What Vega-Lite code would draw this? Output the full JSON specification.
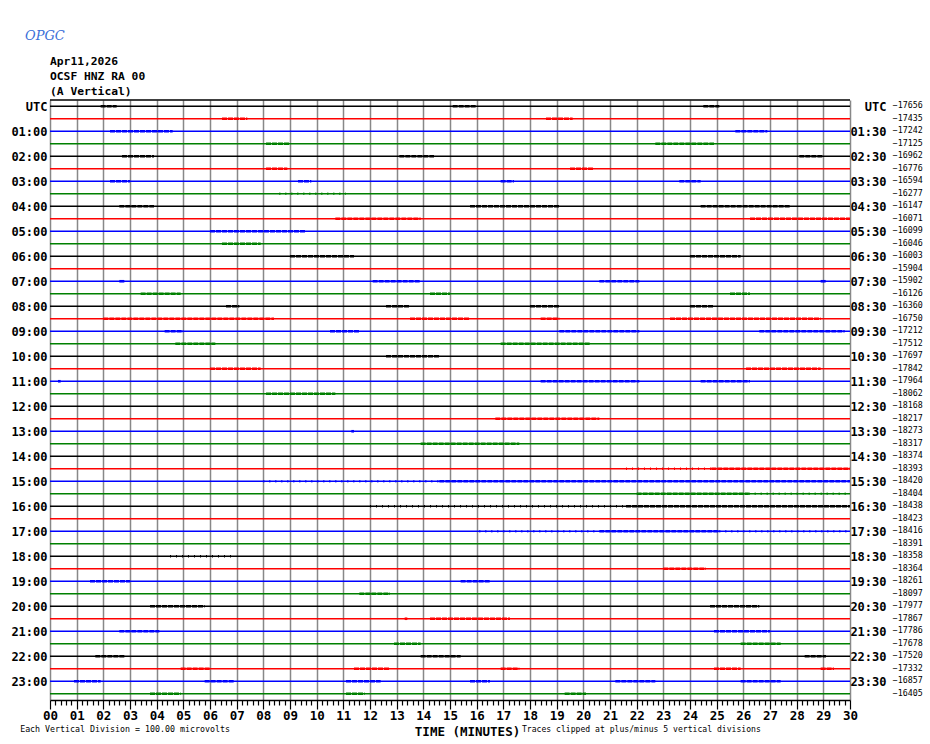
{
  "$schema": "https://vega.github.io/schema/vega-lite/v6.json",
  "width": 800,
  "height": 600,
  "autosize": {"type": "none"},
  "padding": {"left": 50, "top": 100, "right": 80, "bottom": 44},
  "background": "white",
  "config": {"view": {"stroke": null}, "font": "DejaVu Sans Mono"},
  "datasets": {
    "traces": [
      {"trace": 0, "level": -17656}, {"trace": 1, "level": -17435}, {"trace": 2, "level": -17242}, {"trace": 3, "level": -17125},
      {"trace": 4, "level": -16962}, {"trace": 5, "level": -16776}, {"trace": 6, "level": -16594}, {"trace": 7, "level": -16277},
      {"trace": 8, "level": -16147}, {"trace": 9, "level": -16071}, {"trace": 10, "level": -16099}, {"trace": 11, "level": -16046},
      {"trace": 12, "level": -16003}, {"trace": 13, "level": -15904}, {"trace": 14, "level": -15902}, {"trace": 15, "level": -16126},
      {"trace": 16, "level": -16360}, {"trace": 17, "level": -16750}, {"trace": 18, "level": -17212}, {"trace": 19, "level": -17512},
      {"trace": 20, "level": -17697}, {"trace": 21, "level": -17842}, {"trace": 22, "level": -17964}, {"trace": 23, "level": -18062},
      {"trace": 24, "level": -18168}, {"trace": 25, "level": -18217}, {"trace": 26, "level": -18273}, {"trace": 27, "level": -18317},
      {"trace": 28, "level": -18374}, {"trace": 29, "level": -18393}, {"trace": 30, "level": -18420}, {"trace": 31, "level": -18404},
      {"trace": 32, "level": -18438}, {"trace": 33, "level": -18423}, {"trace": 34, "level": -18416}, {"trace": 35, "level": -18391},
      {"trace": 36, "level": -18358}, {"trace": 37, "level": -18364}, {"trace": 38, "level": -18261}, {"trace": 39, "level": -18097},
      {"trace": 40, "level": -17977}, {"trace": 41, "level": -17867}, {"trace": 42, "level": -17786}, {"trace": 43, "level": -17678},
      {"trace": 44, "level": -17520}, {"trace": 45, "level": -17332}, {"trace": 46, "level": -16857}, {"trace": 47, "level": -16405}
    ],
    "bursts": [
      {"trace": 0, "start": 1.9, "end": 2.5, "kind": "d"}, {"trace": 0, "start": 15.1, "end": 16, "kind": "d"}, {"trace": 0, "start": 24.5, "end": 25.1, "kind": "d"},
      {"trace": 1, "start": 6.45, "end": 7.4, "kind": "d"}, {"trace": 1, "start": 18.6, "end": 19.6, "kind": "d"},
      {"trace": 2, "start": 2.25, "end": 4.6, "kind": "d"}, {"trace": 2, "start": 25.7, "end": 26.9, "kind": "d"},
      {"trace": 3, "start": 8.1, "end": 9, "kind": "d"}, {"trace": 3, "start": 22.7, "end": 24.9, "kind": "d"},
      {"trace": 4, "start": 2.7, "end": 3.9, "kind": "d"}, {"trace": 4, "start": 13.1, "end": 14.4, "kind": "d"}, {"trace": 4, "start": 28.1, "end": 29, "kind": "d"},
      {"trace": 5, "start": 8.1, "end": 8.9, "kind": "d"}, {"trace": 5, "start": 19.5, "end": 20.4, "kind": "d"},
      {"trace": 6, "start": 2.25, "end": 3, "kind": "d"}, {"trace": 6, "start": 9.3, "end": 9.8, "kind": "d"}, {"trace": 6, "start": 16.9, "end": 17.4, "kind": "d"}, {"trace": 6, "start": 23.6, "end": 24.4, "kind": "d"},
      {"trace": 7, "start": 8.6, "end": 11.1, "kind": "s"},
      {"trace": 8, "start": 2.6, "end": 3.9, "kind": "d"}, {"trace": 8, "start": 15.75, "end": 19.1, "kind": "d"}, {"trace": 8, "start": 24.4, "end": 27.75, "kind": "d"},
      {"trace": 9, "start": 10.7, "end": 13.9, "kind": "d"}, {"trace": 9, "start": 26.25, "end": 30, "kind": "d"},
      {"trace": 10, "start": 6, "end": 9.6, "kind": "d"},
      {"trace": 11, "start": 6.45, "end": 7.9, "kind": "d"},
      {"trace": 12, "start": 9, "end": 11.4, "kind": "d"}, {"trace": 12, "start": 24, "end": 25.9, "kind": "d"},
      {"trace": 14, "start": 2.6, "end": 2.8, "kind": "d"}, {"trace": 14, "start": 12.1, "end": 13.9, "kind": "d"}, {"trace": 14, "start": 20.6, "end": 22.1, "kind": "d"}, {"trace": 14, "start": 28.9, "end": 29.1, "kind": "d"},
      {"trace": 15, "start": 3.4, "end": 4.9, "kind": "d"}, {"trace": 15, "start": 14.25, "end": 15, "kind": "d"}, {"trace": 15, "start": 25.5, "end": 26.25, "kind": "d"},
      {"trace": 16, "start": 6.6, "end": 7.1, "kind": "d"}, {"trace": 16, "start": 12.6, "end": 13.5, "kind": "d"}, {"trace": 16, "start": 18, "end": 19.1, "kind": "d"}, {"trace": 16, "start": 24, "end": 24.9, "kind": "d"},
      {"trace": 17, "start": 2, "end": 8.4, "kind": "d"}, {"trace": 17, "start": 13.5, "end": 15.75, "kind": "d"}, {"trace": 17, "start": 18.4, "end": 19.1, "kind": "d"}, {"trace": 17, "start": 23.25, "end": 28.9, "kind": "d"},
      {"trace": 18, "start": 4.3, "end": 5, "kind": "d"}, {"trace": 18, "start": 10.5, "end": 11.6, "kind": "d"}, {"trace": 18, "start": 19.1, "end": 22.1, "kind": "d"}, {"trace": 18, "start": 26.6, "end": 29.8, "kind": "d"},
      {"trace": 19, "start": 4.7, "end": 6.2, "kind": "d"}, {"trace": 19, "start": 16.9, "end": 20.25, "kind": "d"},
      {"trace": 20, "start": 12.6, "end": 14.6, "kind": "d"},
      {"trace": 21, "start": 6, "end": 7.9, "kind": "d"}, {"trace": 21, "start": 26.1, "end": 28.9, "kind": "d"},
      {"trace": 22, "start": 0.3, "end": 0.4, "kind": "d"}, {"trace": 22, "start": 18.4, "end": 22.1, "kind": "d"}, {"trace": 22, "start": 24.4, "end": 26.25, "kind": "d"},
      {"trace": 23, "start": 8.1, "end": 10.7, "kind": "d"},
      {"trace": 25, "start": 16.7, "end": 20.6, "kind": "d"},
      {"trace": 26, "start": 11.3, "end": 11.4, "kind": "d"},
      {"trace": 27, "start": 13.9, "end": 17.6, "kind": "d"},
      {"trace": 29, "start": 21.6, "end": 24.8, "kind": "s"}, {"trace": 29, "start": 24.8, "end": 30, "kind": "d"},
      {"trace": 30, "start": 8, "end": 14.6, "kind": "s"}, {"trace": 30, "start": 14.6, "end": 30, "kind": "d"},
      {"trace": 31, "start": 22, "end": 26.2, "kind": "d"}, {"trace": 31, "start": 26.2, "end": 30, "kind": "s"},
      {"trace": 32, "start": 12, "end": 21.6, "kind": "s"}, {"trace": 32, "start": 21.6, "end": 30, "kind": "d"},
      {"trace": 34, "start": 16.1, "end": 20.6, "kind": "s"}, {"trace": 34, "start": 20.6, "end": 25.1, "kind": "d"}, {"trace": 34, "start": 25.1, "end": 30, "kind": "s"},
      {"trace": 36, "start": 4.5, "end": 6.9, "kind": "s"},
      {"trace": 37, "start": 23, "end": 24.6, "kind": "d"},
      {"trace": 38, "start": 1.5, "end": 3, "kind": "d"}, {"trace": 38, "start": 15.4, "end": 16.5, "kind": "d"},
      {"trace": 39, "start": 11.6, "end": 12.75, "kind": "d"},
      {"trace": 40, "start": 3.75, "end": 5.8, "kind": "d"}, {"trace": 40, "start": 24.75, "end": 26.6, "kind": "d"},
      {"trace": 41, "start": 13.3, "end": 13.4, "kind": "d"}, {"trace": 41, "start": 14.25, "end": 17.25, "kind": "d"},
      {"trace": 42, "start": 2.6, "end": 4.1, "kind": "d"}, {"trace": 42, "start": 24.9, "end": 27, "kind": "d"},
      {"trace": 43, "start": 12.9, "end": 13.9, "kind": "d"}, {"trace": 43, "start": 25.9, "end": 27.4, "kind": "d"},
      {"trace": 44, "start": 1.7, "end": 2.8, "kind": "d"}, {"trace": 44, "start": 13.9, "end": 15.4, "kind": "d"}, {"trace": 44, "start": 28.3, "end": 29.1, "kind": "d"},
      {"trace": 45, "start": 4.9, "end": 6, "kind": "d"}, {"trace": 45, "start": 11.4, "end": 12.75, "kind": "d"}, {"trace": 45, "start": 16.9, "end": 17.6, "kind": "d"}, {"trace": 45, "start": 24.9, "end": 25.9, "kind": "d"}, {"trace": 45, "start": 28.9, "end": 29.4, "kind": "d"},
      {"trace": 46, "start": 0.9, "end": 1.9, "kind": "d"}, {"trace": 46, "start": 5.8, "end": 6.9, "kind": "d"}, {"trace": 46, "start": 11.1, "end": 12.4, "kind": "d"}, {"trace": 46, "start": 15.75, "end": 16.5, "kind": "d"}, {"trace": 46, "start": 21.2, "end": 22.7, "kind": "d"}, {"trace": 46, "start": 25.9, "end": 27.4, "kind": "d"},
      {"trace": 47, "start": 3.75, "end": 4.9, "kind": "d"}, {"trace": 47, "start": 11.1, "end": 11.8, "kind": "d"}, {"trace": 47, "start": 19.3, "end": 20.1, "kind": "d"}
    ]
  },
  "resolve": {"axis": {"y": "independent", "x": "independent"}},
  "layer": [
    {
      "data": {"name": "bursts"},
      "transform": [{"filter": "datum.kind === 'd'"}],
      "mark": {"type": "rule", "strokeWidth": 2.6, "strokeDash": [5, 1]},
      "encoding": {
        "x": {
          "field": "start", "type": "quantitative",
          "scale": {"domain": [0, 30], "nice": false, "zero": false},
          "axis": {
            "orient": "bottom",
            "tickCount": 150,
            "labelExpr": "datum.value % 1 === 0 ? format(datum.value, '02d') : ''",
            "labelOverlap": false,
            "labelFlush": false,
            "labelFont": "DejaVu Sans Mono",
            "labelFontWeight": "bold",
            "labelFontSize": 12.5,
            "labelColor": "black",
            "labelPadding": 0,
            "tickColor": "black",
            "tickWidth": 1.2,
            "tickSize": {"condition": {"test": "datum.value % 1 === 0", "value": 9}, "value": 5},
            "domainColor": "black",
            "domainWidth": 1.5,
            "grid": true,
            "gridColor": "#888888",
            "gridWidth": 1.5,
            "gridOpacity": {"condition": {"test": "datum.value % 1 === 0", "value": 1}, "value": 0},
            "title": "TIME (MINUTES)",
            "titleFont": "DejaVu Sans Mono",
            "titleFontWeight": "bold",
            "titleFontSize": 12.5,
            "titleColor": "black",
            "titleX": 417,
            "titleY": 31,
            "titleBaseline": "middle",
            "titleAlign": "center"
          }
        },
        "x2": {"field": "end"},
        "y": {"field": "trace", "type": "quantitative", "scale": {"domain": [-0.5, 47.5], "reverse": true, "nice": false, "zero": false}, "axis": null},
        "color": {
          "field": "trace", "type": "ordinal", "legend": null,
          "scale": {
            "domain": [0,1,2,3,4,5,6,7,8,9,10,11,12,13,14,15,16,17,18,19,20,21,22,23,24,25,26,27,28,29,30,31,32,33,34,35,36,37,38,39,40,41,42,43,44,45,46,47],
            "range": ["#000000","#ff0000","#0000ff","#008000","#000000","#ff0000","#0000ff","#008000","#000000","#ff0000","#0000ff","#008000","#000000","#ff0000","#0000ff","#008000","#000000","#ff0000","#0000ff","#008000","#000000","#ff0000","#0000ff","#008000","#000000","#ff0000","#0000ff","#008000","#000000","#ff0000","#0000ff","#008000","#000000","#ff0000","#0000ff","#008000","#000000","#ff0000","#0000ff","#008000","#000000","#ff0000","#0000ff","#008000","#000000","#ff0000","#0000ff","#008000"]
          }
        }
      }
    },
    {
      "data": {"name": "traces"},
      "mark": {"type": "rule", "strokeWidth": 1.6},
      "encoding": {
        "y": {
          "field": "trace", "type": "quantitative",
          "scale": {"domain": [-0.5, 47.5], "reverse": true, "nice": false, "zero": false},
          "axis": {
            "orient": "left",
            "values": [0,2,4,6,8,10,12,14,16,18,20,22,24,26,28,30,32,34,36,38,40,42,44,46],
            "labelExpr": "datum.value == 0 ? 'UTC' : (datum.value < 20 ? '0' : '') + (datum.value / 2) + ':00'",
            "ticks": false,
            "tickSize": 0,
            "domain": false,
            "grid": false,
            "labelPadding": 3,
            "labelFont": "DejaVu Sans Mono",
            "labelFontWeight": "bold",
            "labelFontSize": 12,
            "labelColor": "black",
            "labelOverlap": false,
            "labelBaseline": "middle",
            "title": null
          }
        },
        "x": {"datum": 0, "type": "quantitative", "scale": {"domain": [0, 30], "nice": false, "zero": false}, "axis": null},
        "x2": {"datum": 30},
        "color": {
          "field": "trace", "type": "ordinal", "legend": null,
          "scale": {
            "domain": [0,1,2,3,4,5,6,7,8,9,10,11,12,13,14,15,16,17,18,19,20,21,22,23,24,25,26,27,28,29,30,31,32,33,34,35,36,37,38,39,40,41,42,43,44,45,46,47],
            "range": ["#000000","#ff0000","#0000ff","#008000","#000000","#ff0000","#0000ff","#008000","#000000","#ff0000","#0000ff","#008000","#000000","#ff0000","#0000ff","#008000","#000000","#ff0000","#0000ff","#008000","#000000","#ff0000","#0000ff","#008000","#000000","#ff0000","#0000ff","#008000","#000000","#ff0000","#0000ff","#008000","#000000","#ff0000","#0000ff","#008000","#000000","#ff0000","#0000ff","#008000","#000000","#ff0000","#0000ff","#008000","#000000","#ff0000","#0000ff","#008000"]
          }
        }
      }
    },
    {
      "data": {"name": "bursts"},
      "transform": [{"filter": "datum.kind === 's'"}],
      "mark": {"type": "rule", "strokeWidth": 2.6, "strokeDash": [1, 5]},
      "encoding": {
        "x": {"field": "start", "type": "quantitative", "scale": {"domain": [0, 30], "nice": false, "zero": false}, "axis": null},
        "x2": {"field": "end"},
        "y": {"field": "trace", "type": "quantitative", "scale": {"domain": [-0.5, 47.5], "reverse": true, "nice": false, "zero": false}, "axis": null},
        "color": {"field": "trace", "type": "ordinal", "legend": null}
      }
    },
    {
      "data": {"values": [{"edge": "top"}]},
      "mark": {"type": "rule", "color": "black", "strokeWidth": 1.5},
      "encoding": {
        "y": {"datum": -0.5, "type": "quantitative", "scale": {"domain": [-0.5, 47.5], "reverse": true, "nice": false, "zero": false}, "axis": null},
        "x": {"datum": 0, "type": "quantitative", "scale": {"domain": [0, 30], "nice": false, "zero": false}, "axis": null},
        "x2": {"datum": 30}
      }
    },
    {
      "data": {"name": "traces"},
      "mark": {"type": "text", "align": "left", "baseline": "middle", "font": "DejaVu Sans Mono", "fontSize": 8.3, "color": "black"},
      "encoding": {
        "y": {
          "field": "trace", "type": "quantitative",
          "scale": {"domain": [-0.5, 47.5], "reverse": true, "nice": false, "zero": false},
          "axis": {
            "orient": "right",
            "values": [0,2,4,6,8,10,12,14,16,18,20,22,24,26,28,30,32,34,36,38,40,42,44,46],
            "labelExpr": "datum.value == 0 ? 'UTC' : (datum.value < 20 ? '0' : '') + floor(datum.value / 2) + ':30'",
            "ticks": false,
            "tickSize": 0,
            "domain": false,
            "grid": false,
            "labelAlign": "right",
            "labelPadding": 36,
            "labelFont": "DejaVu Sans Mono",
            "labelFontWeight": "bold",
            "labelFontSize": 12,
            "labelColor": "black",
            "labelOverlap": false,
            "labelBaseline": "middle",
            "title": null
          }
        },
        "x": {"datum": 31.6, "type": "quantitative", "scale": {"domain": [0, 30], "nice": false, "zero": false}, "axis": null},
        "text": {"field": "level", "type": "quantitative", "format": "d"}
      }
    },
    {
      "data": {"values": [{"header": "Apr11,2026\nOCSF HNZ RA 00\n(A Vertical)"}]},
      "mark": {"type": "text", "align": "left", "baseline": "top", "lineBreak": "\n", "lineHeight": 15, "font": "DejaVu Sans Mono", "fontWeight": "bold", "fontSize": 11.3, "color": "black"},
      "encoding": {
        "x": {"datum": 0, "type": "quantitative", "scale": {"domain": [0, 30], "nice": false, "zero": false}, "axis": null},
        "y": {"datum": -4.02, "type": "quantitative", "scale": {"domain": [-0.5, 47.5], "reverse": true, "nice": false, "zero": false}, "axis": null},
        "text": {"field": "header"}
      }
    },
    {
      "data": {"values": [{"note": "Each Vertical Division =  100.00 microvolts"}]},
      "mark": {"type": "text", "align": "left", "baseline": "middle", "font": "DejaVu Sans Mono", "fontSize": 8.3, "color": "black"},
      "encoding": {
        "x": {"datum": -1.12, "type": "quantitative", "scale": {"domain": [0, 30], "nice": false, "zero": false}, "axis": null},
        "y": {"datum": 49.9, "type": "quantitative", "scale": {"domain": [-0.5, 47.5], "reverse": true, "nice": false, "zero": false}, "axis": null},
        "text": {"field": "note"}
      }
    },
    {
      "data": {"values": [{"note": "Traces clipped at plus/minus 5 vertical divisions"}]},
      "mark": {"type": "text", "align": "left", "baseline": "middle", "font": "DejaVu Sans Mono", "fontSize": 8.1, "color": "black"},
      "encoding": {
        "x": {"datum": 17.7, "type": "quantitative", "scale": {"domain": [0, 30], "nice": false, "zero": false}, "axis": null},
        "y": {"datum": 49.9, "type": "quantitative", "scale": {"domain": [-0.5, 47.5], "reverse": true, "nice": false, "zero": false}, "axis": null},
        "text": {"field": "note"}
      }
    },
    {
      "data": {"values": [{"logo": "OPGC"}]},
      "mark": {"type": "text", "align": "center", "baseline": "middle", "font": "DejaVu Serif", "fontStyle": "italic", "fontSize": 13, "color": "#3a6fd8"},
      "encoding": {
        "x": {"datum": -0.19, "type": "quantitative", "scale": {"domain": [0, 30], "nice": false, "zero": false}, "axis": null},
        "y": {"datum": -5.62, "type": "quantitative", "scale": {"domain": [-0.5, 47.5], "reverse": true, "nice": false, "zero": false}, "axis": null},
        "text": {"field": "logo"}
      }
    }
  ]
}
